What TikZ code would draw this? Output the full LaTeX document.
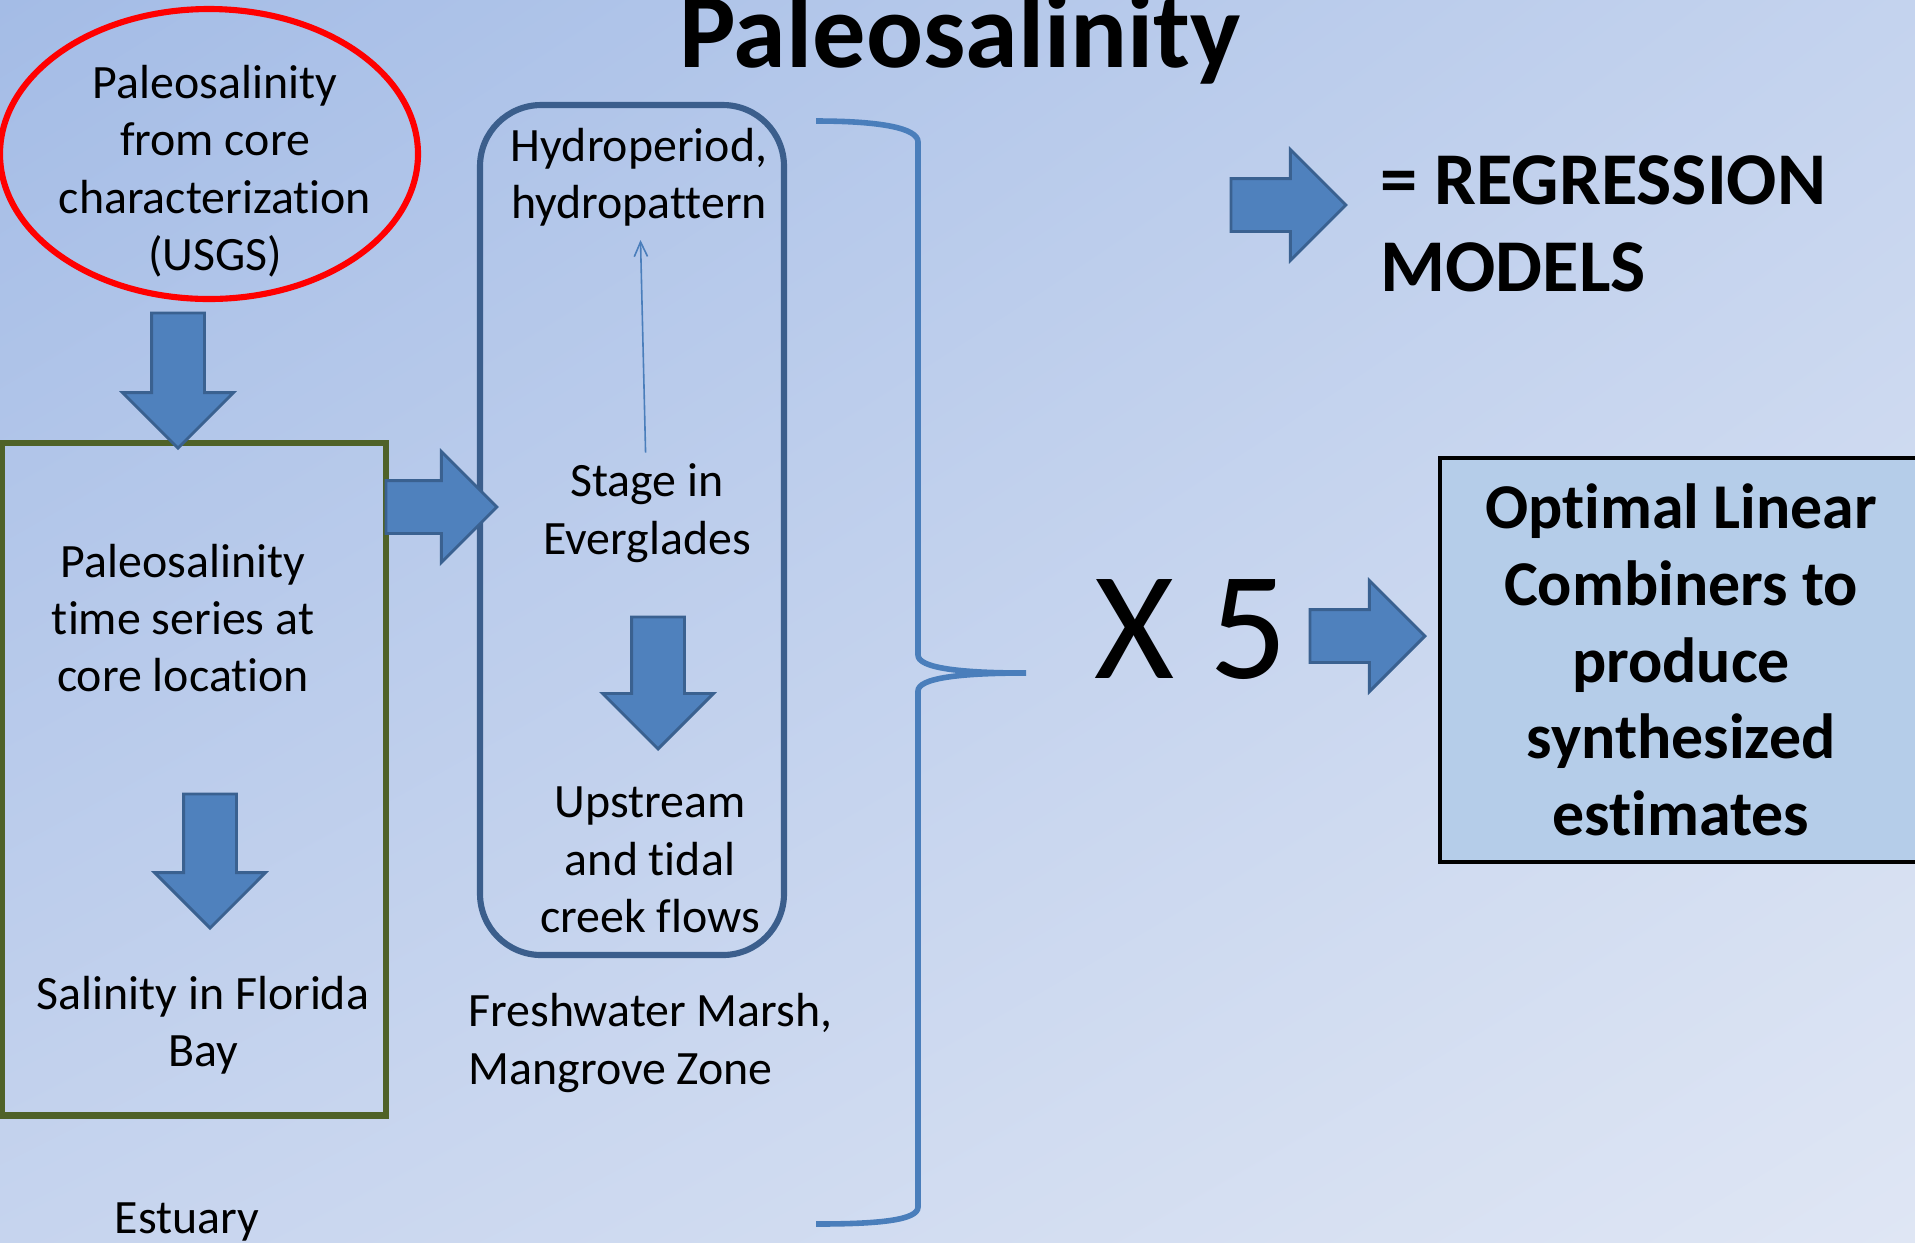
\documentclass[tikz,border=0pt]{standalone}
\usepackage{fontspec}
\setmainfont{Carlito}[Ligatures=NoCommon]
\usetikzlibrary{shapes.arrows,arrows.meta,shadings}
\definecolor{bgA}{HTML}{A4BCE6}
\definecolor{bgB}{HTML}{C4D3EE}
\definecolor{bgC}{HTML}{C6D4EE}
\definecolor{bgD}{HTML}{DFE6F4}
\definecolor{arrowfill}{HTML}{4F81BD}
\definecolor{arrowline}{HTML}{3A6190}
\definecolor{boxline}{HTML}{3B5E8C}
\definecolor{bracecol}{HTML}{4A7EBB}
\definecolor{olive}{HTML}{4F6228}
\definecolor{optfill}{HTML}{B5CDE9}

\begin{document}
\begin{tikzpicture}[x=0.376pt,y=-0.376pt,
  body/.style={font=\fontsize{18}{21.6}\selectfont, align=center, inner sep=0},
  blockarrow/.style={single arrow, draw=arrowline, fill=arrowfill, line width=1.1pt,
    single arrow tip angle=90, single arrow head extend=10.9pt,
    minimum width=40.6pt, inner xsep=0, inner ysep=9.4pt, outer sep=0, anchor=tail},
  ring/.style={draw=red, line width=2.3pt},
  olivebox/.style={draw=olive, line width=2.3pt, minimum width=144.4pt, minimum height=253pt, inner sep=0},
  roundbox/.style={draw=boxline, line width=2.3pt, rounded corners=23pt, minimum width=114.3pt, minimum height=319.6pt, inner sep=0},
  optbox/.style={draw=black, fill=optfill, line width=1.5pt, minimum width=181.6pt, minimum height=151.9pt,
    font=\bfseries\fontsize{24}{28.8}\selectfont, align=center},
  thinarrow/.style={draw=bracecol, line width=0.6pt, -{Straight Barb[length=5.5pt,width=5pt]}}]
\clip (0,0) rectangle (1915,1242);
% background
\shade[upper left=bgA, upper right=bgB, lower left=bgC, lower right=bgD] (0,0) rectangle (1915,1242);

\node[font=\bfseries\fontsize{40}{48}\selectfont, anchor=base] (title) at (960,67) {Paleosalinity};

% core data
\node[body] (usgs) at (215,171) {Paleosalinity\\from core\\characterization\\(USGS)};
\draw[ring] (209,154) ellipse [x radius=209, y radius=145];

% estuary column
\node[olivebox] (est) at (194,779) {};
\node[body] (series) at (183,618) {Paleosalinity\\time series at\\core location};
\node[body] (bay) at (203,1025) {Salinity in Florida\\Bay};
\node[body] (estuary) at (187,1222) {Estuary};
\node[blockarrow, rotate=-90, minimum height=50.8pt] (down1) at (178,313) {};
\node[blockarrow, rotate=-90, minimum height=50.4pt] (down2) at (210,794) {};

% marsh column
\node[roundbox] (marsh) at (632,530) {};
\node[body] (hydro) at (639,177) {Hydroperiod,\\hydropattern};
\node[body] (stage) at (647,513) {Stage in\\Everglades};
\node[body] (flows) at (650,860) {Upstream\\and tidal\\creek flows};
\node[body, align=left, anchor=north west] (zone) at (468,993) {Freshwater Marsh,\\Mangrove Zone};
\draw[thinarrow, shorten <=4pt, shorten >=5pt] (stage) -- (hydro);
\node[blockarrow, minimum height=41.7pt] (right1) at (386,507) {};
\node[blockarrow, rotate=-90, minimum height=49.6pt] (down3) at (658,617) {};

% brace
\draw[draw=bracecol, line width=2.1pt]
  (816,121) .. controls (880,121) and (918,128) .. (918,142) -- (918,655)
  .. controls (918,668) and (960,673) .. (1026,673)
  .. controls (960,673) and (918,678) .. (918,691) -- (918,1207)
  .. controls (918,1220) and (880,1224) .. (816,1224);

% legend and output
\node[blockarrow, minimum height=43.2pt] (right2) at (1231,205) {};
\node[font=\bfseries\fontsize{28}{32.8}\selectfont, align=left, inner sep=0, anchor=north west] (regr) at (1380,155) {= REGRESSION\\MODELS};
\node[font=\fontsize{58}{70}\selectfont, inner sep=0] (times) at (1191,630) {X 5};
\node[blockarrow, minimum height=43.2pt] (right3) at (1310,636) {};
\node[optbox] (olc) at (1681,660) {Optimal Linear\\Combiners to\\produce\\synthesized\\estimates};
\end{tikzpicture}
\end{document}
